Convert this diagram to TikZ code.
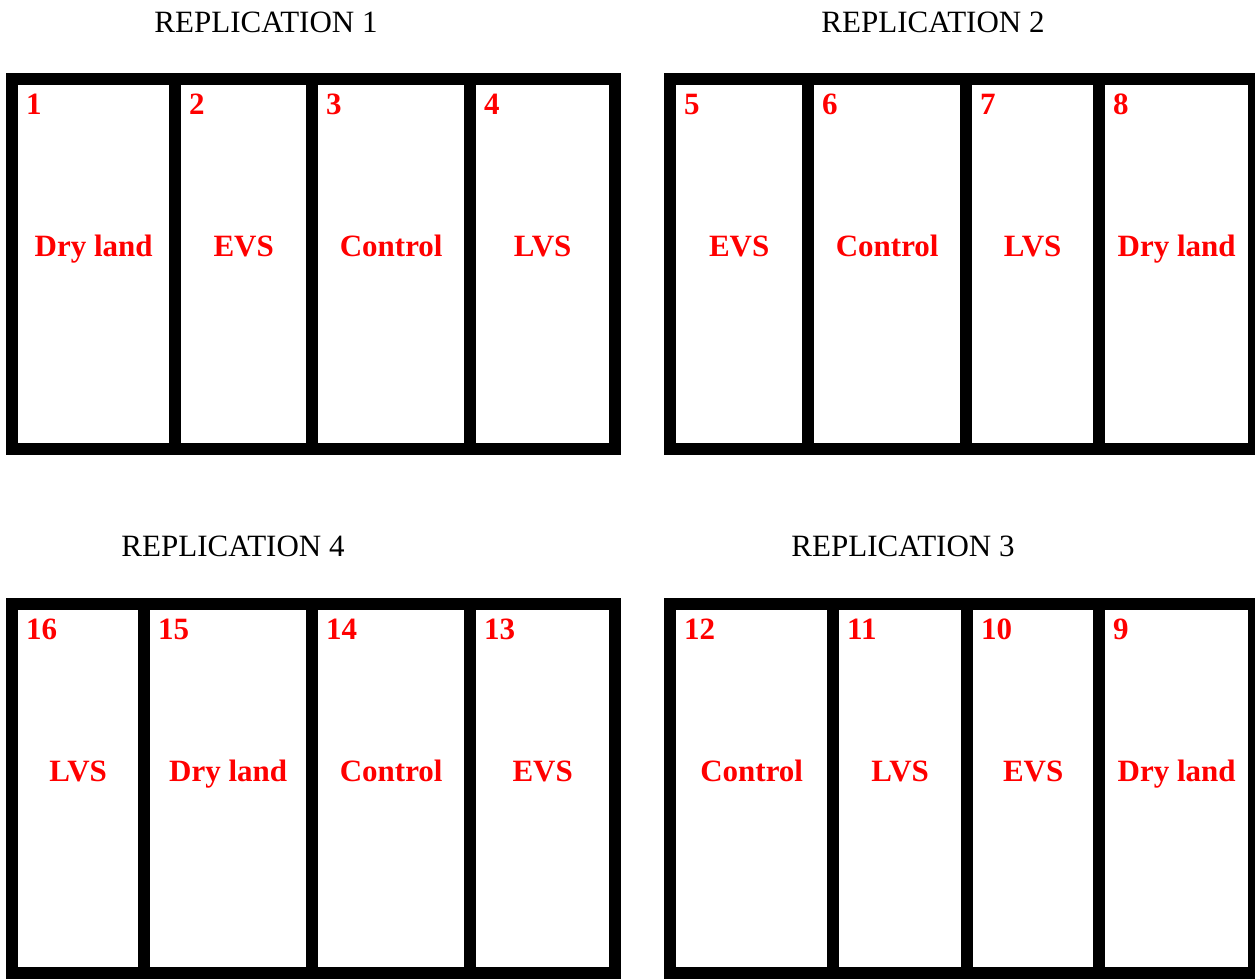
\documentclass[tikz,border=0pt]{standalone}
\usepackage{fontspec}
\setmainfont{Liberation Serif}
\begin{document}
\begin{tikzpicture}[x=1pt,y=-1pt,
  blockbox/.style={fill=black,draw=none},
  cellbox/.style={fill=white,draw=none,inner sep=0pt,anchor=north west},
  numlbl/.style={text=red,font=\fontsize{31}{36}\selectfont\bfseries,inner sep=0pt,anchor=base west},
  treat/.style={text=red,font=\fontsize{31}{36}\selectfont\bfseries,inner sep=0pt,anchor=base},
  reptitle/.style={text=black,font=\fontsize{31}{36}\selectfont,inner sep=0pt,anchor=base}]
\useasboundingbox (0,0) rectangle (1255,978);
\fill[white] (0,0) rectangle (1255,978);
% blocks
\fill[blockbox] (6,73) rectangle (621,455);
\fill[blockbox] (664,73) rectangle (1262,455);
\fill[blockbox] (6,598) rectangle (621,980);
\fill[blockbox] (664,598) rectangle (1262,980);
% titles
\node[reptitle] (r1) at (266,32) {REPLICATION 1};
\node[reptitle] (r2) at (933,32) {REPLICATION 2};
\node[reptitle] (r4) at (233,556) {REPLICATION 4};
\node[reptitle] (r3) at (903,556) {REPLICATION 3};
% cells: id / left / right / top / bottom / treatment
\foreach \id/\l/\r/\t/\b/\txt in {
  1/18/169/85/443/Dry land, 2/181/306/85/443/EVS, 3/318/464/85/443/Control, 4/476/609/85/443/LVS,
  5/676/802/85/443/EVS, 6/814/960/85/443/Control, 7/972/1093/85/443/LVS, 8/1105/1248/85/443/Dry land,
  16/18/138/610/967/LVS, 15/150/306/610/967/Dry land, 14/318/464/610/967/Control, 13/476/609/610/967/EVS,
  12/676/827/610/967/Control, 11/839/961/610/967/LVS, 10/973/1093/610/967/EVS, 9/1105/1248/610/967/Dry land}{
  \pgfmathsetmacro{\w}{\r-\l}
  \pgfmathsetmacro{\h}{\b-\t}
  \node[cellbox,minimum width=\w pt,minimum height=\h pt] (c\id) at (\l,\t) {};
  \node[numlbl] (n\id) at ([xshift=8pt,yshift=-29pt]c\id.north west) {\id};
  \node[treat] (t\id) at ([yshift=-171pt]c\id.north) {\txt};
}
\end{tikzpicture}
\end{document}
